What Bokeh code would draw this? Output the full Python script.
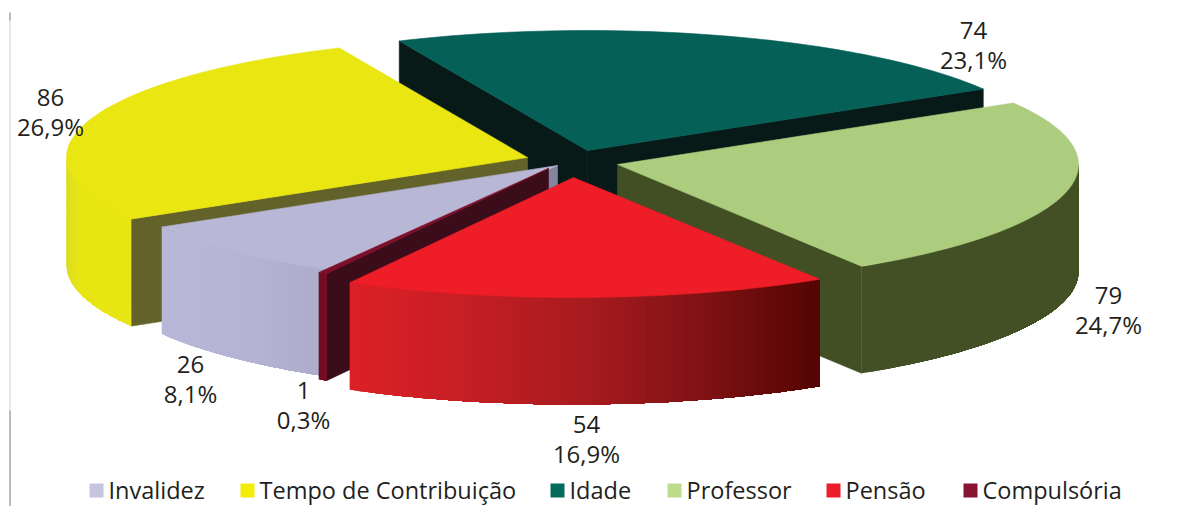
import math
from bokeh.plotting import figure
from bokeh.models import Range1d
from bokeh.embed import file_html
from bokeh.resources import INLINE
from bokeh.core.properties import value

# ---- data -------------------------------------------------------------
categories = ["Invalidez", "Tempo de Contribuição", "Idade", "Professor", "Pensão", "Compulsória"]
counts = [26, 86, 74, 79, 54, 1]
percent_labels = ["8,1%", "26,9%", "23,1%", "24,7%", "16,9%", "0,3%"]

# ---- style ------------------------------------------------------------
FONT = value("Open Sans")
TXT = "#231f20"
START_DEG = 209.9          # clockwise from "up", first slice
RX, RY, DEPTH = 461, 120, 107
rx_of = {"Pensão": 465}
apex = {"Invalidez": (557, 165), "Tempo de Contribuição": (527, 157), "Idade": (587, 150),
        "Professor": (617, 164), "Pensão": (573, 177), "Compulsória": (548, 168)}
top_col = {"Invalidez": "#b8b7d6", "Tempo de Contribuição": "#e9e612", "Idade": "#056057",
           "Professor": "#accd7e", "Pensão": "#ee1d27", "Compulsória": "#7d0f2a"}
wall_col = {"Invalidez": "#86859f", "Tempo de Contribuição": "#62622a", "Idade": "#071a18",
            "Professor": "#424e24", "Compulsória": "#3b0d1b"}
legend_col = ["#c6c5e0", "#f3ec07", "#036a5c", "#bcdc8c", "#ee1d2a", "#8a1233"]
legend_swatch_x = [89, 240, 550, 667, 826, 963]
label_pos = {"Invalidez": (190, 364), "Tempo de Contribuição": (50, 97), "Idade": (973, 30),
             "Professor": (1108, 295), "Pensão": (586, 424), "Compulsória": (303, 390)}

p = figure(width=1161, height=506, x_range=Range1d(0, 1161), y_range=Range1d(506, 0),
           output_backend="svg", toolbar_location=None, min_border=0,
           background_fill_color="white", outline_line_color=None)
p.axis.visible = False
p.grid.visible = False

# slice angles from the values
total = sum(counts)
angles = {}
a = START_DEG
for c, v in zip(categories, counts):
    angles[c] = (a, a + v / total * 360)
    a += v / total * 360


def pt(cat, deg, dy=0):
    ax, ay = apex[cat]
    t = math.radians(deg)
    return ax + rx_of.get(cat, RX) * math.sin(t), ay - RY * math.cos(t) + dy


def arc(cat, d0, d1, dy=0, n=60):
    return [pt(cat, d0 + (d1 - d0) * i / n, dy) for i in range(n + 1)]


def poly(pts, color):
    p.patch([q[0] for q in pts], [q[1] for q in pts], fill_color=color, line_color=color, line_width=0.6)


def top(cat):
    d0, d1 = angles[cat]
    poly([apex[cat]] + arc(cat, d0, d1), top_col[cat])


def wall(cat, deg):
    ax, ay = apex[cat]
    e = pt(cat, deg)
    poly([(ax, ay), e, (e[0], e[1] + DEPTH), (ax, ay + DEPTH)], wall_col[cat])


def lerp_color(stops, t):
    t = max(0.0, min(1.0, t))
    for (t0, c0), (t1, c1) in zip(stops, stops[1:]):
        if t <= t1:
            f = (t - t0) / (t1 - t0) if t1 > t0 else 0
            r = [int(c0[i:i + 2], 16) * (1 - f) + int(c1[i:i + 2], 16) * f for i in (1, 3, 5)]
            return "#%02x%02x%02x" % tuple(int(round(x)) for x in r)
    return stops[-1][1]


def side(cat, d0, d1, stops, n=90):
    # painted left-to-right over itself, so that no seams show between strips
    upper = arc(cat, d0, d1, 0, n)
    lower = arc(cat, d0, d1, DEPTH, n)
    if upper[0][0] > upper[-1][0]:
        upper.reverse()
        lower.reverse()
    lo, hi = upper[0][0], upper[-1][0]
    xs, ys, cols = [], [], []
    for i in range(n):
        u, l = upper[i:], lower[i:][::-1]
        xs.append([q[0] for q in u + l])
        ys.append([q[1] for q in u + l])
        cols.append(lerp_color(stops, (upper[i][0] - lo) / (hi - lo)))
    p.patches(xs, ys, fill_color=cols, line_color=None)


# Idade (back)
c = "Idade"
wall(c, angles[c][0]); wall(c, angles[c][1]); top(c)

# Professor
c = "Professor"
wall(c, angles[c][1])
side(c, 450, angles[c][1], [(0, "#434f24"), (1, "#434f24")], n=40)
top(c)

# Tempo de Contribuição
c = "Tempo de Contribuição"
side(c, angles[c][0], 270, [(0, "#dcdc22"), (0.2, "#e8e612"), (1, "#e8e612")], n=30)
wall(c, angles[c][0])
top(c)

# Invalidez
c = "Invalidez"
wall(c, angles[c][0])
side(c, angles[c][0], angles[c][1], [(0, "#b8b7d8"), (0.5, "#b5b4d4"), (1, "#acabc9")], n=40)
top(c)

# Compulsória
c = "Compulsória"
wall(c, angles[c][0])
side(c, angles[c][0], angles[c][1], [(0, "#6e0c24"), (1, "#7a0d28")], n=6)
top(c)

# Pensão
c = "Pensão"
side(c, angles[c][0], angles[c][1],
     [(0, "#dc2027"), (0.25, "#c41f24"), (0.5, "#a71b1f"), (0.75, "#7f1214"), (0.93, "#5e0806"), (1, "#520504")], n=100)
top(c)

# data labels
for cat, v, pct in zip(categories, counts, percent_labels):
    x, y = label_pos[cat]
    p.text([x], [y], text=[str(v)], text_font=FONT, text_font_size="24px", text_color=TXT,
           text_align="center", text_baseline="middle")
    p.text([x], [y + 29], text=[pct], text_font=FONT, text_font_size="24px", text_color=TXT,
           text_align="center", text_baseline="middle")

# legend
for cat, col, sx in zip(categories, legend_col, legend_swatch_x):
    p.quad(left=[sx], right=[sx + 14], top=[483], bottom=[497], fill_color=col, line_color=None)
    p.text([sx + 19], [489], text=[cat], text_font=FONT, text_font_size="23.5px", text_color=TXT,
           text_align="left", text_baseline="middle")

# frame remnants on the left
p.segment([9.5], [20], [9.5], [410], line_color="#cfcfcf", line_width=1)
p.segment([9.5], [12], [9.5], [20], line_color="#777777", line_width=1)
p.segment([9.5], [410], [9.5], [506], line_color="#777777", line_width=1)

open("out.html", "w").write(file_html(p, INLINE))
